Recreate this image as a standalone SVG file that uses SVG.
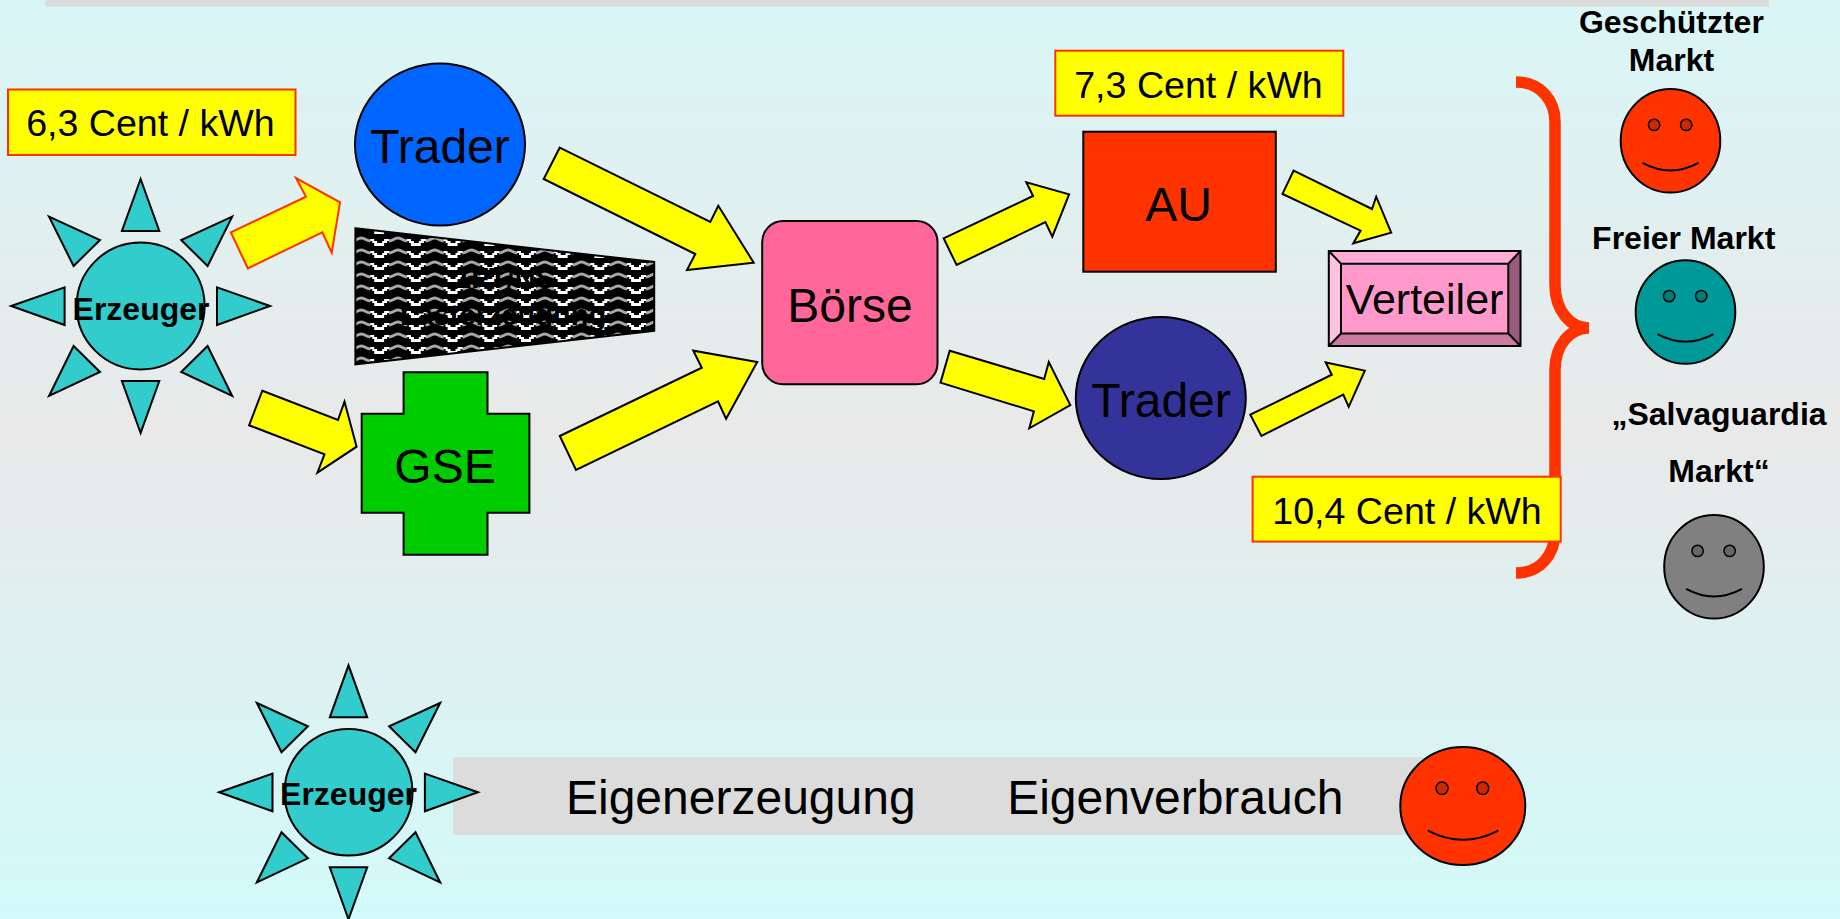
<svg xmlns="http://www.w3.org/2000/svg" width="1840" height="919" viewBox="0 0 1840 919">
<style>
text{font-family:"Liberation Sans",Arial,sans-serif;fill:#000;text-anchor:middle}
.t{font-size:48px}
.p{font-size:37.6px}
.b{font-weight:bold;font-size:32px}
.e{font-weight:bold;font-size:32px}
.k{stroke:#000;stroke-width:2}
.sun{fill:#33cccc;stroke:#000;stroke-width:2}
.arr{fill:#ffff00;stroke:#000;stroke-width:2;stroke-linejoin:miter}
.price{fill:#ffff00;stroke:#ff3300;stroke-width:2}
.eye{stroke:#000;stroke-width:1.5}
.mouth{fill:none;stroke:#000;stroke-width:2}
</style>
<defs>
<linearGradient id="bg" x1="0" y1="0" x2="0" y2="1">
<stop offset="0" stop-color="#d9f6f6"/><stop offset="0.47" stop-color="#e9e9e9"/><stop offset="1" stop-color="#d2fafa"/>
</linearGradient>
<pattern id="wave" width="36.7" height="12" patternUnits="userSpaceOnUse" patternTransform="translate(398 307)">
<rect width="36.7" height="12" fill="#000"/>
<path d="M-9.2,6 C-5,6 -4,3 0,3 C4,3 5,6 9.2,6 M27.5,6 C31.7,6 32.7,3 36.7,3 C40.7,3 41.7,6 45.9,6" fill="none" stroke="#a8a8a8" stroke-width="2.8"/>
<path d="M9,5 H12 V7 H14.5 V9.5 H22 V7 H24.5 V5 H28" fill="none" stroke="#fff" stroke-width="2.4" shape-rendering="crispEdges"/>
</pattern>
<g id="sunrays">
<polygon points="0,-127 -18.7,-75 18.7,-75"/>
<polygon points="0,127 -18.7,75 18.7,75"/>
<polygon points="-129.4,0 -76,-18.7 -76,19"/>
<polygon points="129.4,0 76.4,-18.7 76.4,19"/>
<polygon points="-91.6,-89.3 -40.6,-66 -67,-40"/>
<polygon points="91.6,-89.3 40.6,-66 67,-40"/>
<polygon points="-91.6,90 -67,40 -40.6,66"/>
<polygon points="91.6,90 67,40 40.6,66"/>
</g>
</defs>
<rect id="background" width="1840" height="919" fill="url(#bg)"/>
<rect id="topbar" x="45.5" y="0" width="1723.5" height="6.7" fill="#dcdcdc"/>

<g id="brace"><path d="M1516,82 C1540,82 1555,100 1555,122 V285 C1555,310 1570,328 1589,328 C1570,328 1555,345 1555,370 V531 C1555,555 1540,573 1516,573" fill="none" stroke="#ff3300" stroke-width="11.5"/></g>

<g id="connectors">
<polygon class="price" points="230.8,232.3 306,196.7 296,178 340,202.3 331.7,252.7 322.3,232.3 247.8,268.3"/>
<polygon class="arr" points="559.7,147.7 710.3,222 718.3,205.7 753.7,262.7 687,270 695.3,254 543.7,179"/>
<polygon class="arr" points="262.3,390.7 338,420 344.5,401.7 356.6,446.7 317.4,472.7 324.5,454.3 249.1,425.3"/>
<polygon class="arr" points="559.8,436 701.8,367.7 693.3,350.7 757.2,362 726.1,418.7 718,401.3 576,470"/>
<polygon class="arr" points="943.6,238.3 1033.1,196 1026.3,182.3 1069.1,194.3 1052.3,236.7 1045.4,222 956.6,265"/>
<polygon class="arr" points="949.7,350.7 1044.2,379 1048.8,362 1070.3,405 1029.3,428.3 1033.9,411.3 940.5,382.7"/>
<polygon class="arr" points="1293.6,170.6 1372,209 1376.2,196.7 1391.2,232.7 1353.3,243.3 1360.6,230.6 1282.5,193.9"/>
<polygon class="arr" points="1250.3,414.7 1331.8,374.7 1325.7,362.4 1364.8,370.6 1348.7,406.9 1343.3,394.7 1261.4,435.9"/>
</g>

<g id="price-63"><rect class="price" x="8" y="89.5" width="287.5" height="65.5"/><text class="p" x="150.4" y="136">6,3 Cent / kWh</text></g>
<g id="erzeuger-1">
<use href="#sunrays" x="140.6" y="306" class="sun"/>
<ellipse class="sun" cx="140.6" cy="306" rx="64" ry="63.5"/>
<text class="e" x="141" y="320">Erzeuger</text>
</g>
<g id="trader-1"><ellipse class="k" cx="440" cy="144.5" rx="85" ry="81" fill="#0066ff"/><text class="t" x="440" y="163">Trader</text></g>
<g id="lasterzeugung">
<polygon points="355.4,228.3 654.2,262 654.2,330.8 355.4,364.3" fill="url(#wave)" stroke="#000" stroke-width="2"/>
<text x="505" y="288" style="font-size:29px;font-weight:bold">1FT/NS</text>
<text x="503" y="325" style="font-size:29px;font-weight:bold">Lasterzeugung</text>
</g>
<g id="gse"><polygon class="k" points="403.6,372.3 487.5,372.3 487.5,413.7 529.4,413.7 529.4,512.7 487.5,512.7 487.5,554.7 403.6,554.7 403.6,512.7 361.7,512.7 361.7,413.7 403.6,413.7" fill="#00cc00"/><text class="t" x="445" y="482.7">GSE</text></g>
<g id="boerse"><rect class="k" x="762.2" y="221" width="175.3" height="163.3" rx="21" ry="21" fill="#ff6699"/><text class="t" x="850" y="321.7">Börse</text></g>
<g id="price-73"><rect class="price" x="1055.3" y="50.7" width="288" height="65"/><text class="p" x="1198.5" y="98.3">7,3 Cent / kWh</text></g>
<g id="au"><rect class="k" x="1083.3" y="131.7" width="192.5" height="140" fill="#ff3300"/><text class="t" x="1178.5" y="220.7">AU</text></g>
<g id="trader-2"><ellipse class="k" cx="1160.8" cy="398" rx="85" ry="81" fill="#333399"/><text class="t" x="1161" y="417.3">Trader</text></g>
<g id="verteiler">
<rect x="1328.8" y="251" width="191.7" height="95" fill="#ff99cc"/>
<polygon points="1328.8,251 1520.5,251 1508.3,263.7 1341,263.7" fill="#ffadd6"/>
<polygon points="1328.8,251 1341,263.7 1341,333.5 1328.8,346" fill="#ffc2e0"/>
<polygon points="1520.5,251 1508.3,263.7 1508.3,333.5 1520.5,346" fill="#995c7a"/>
<polygon points="1328.8,346 1341,333.5 1508.3,333.5 1520.5,346" fill="#cc7aa3"/>
<path d="M1328.8,251 H1520.5 V346 H1328.8 Z M1341,263.7 H1508.3 V333.5 H1341 Z M1328.8,251 L1341,263.7 M1520.5,251 L1508.3,263.7 M1328.8,346 L1341,333.5 M1520.5,346 L1508.3,333.5" fill="none" stroke="#000" stroke-width="2"/>
<text x="1424.5" y="314.3" style="font-size:43px">Verteiler</text>
</g>
<g id="price-104"><rect class="price" x="1252.6" y="476.7" width="308.1" height="64.9"/><text class="p" x="1407" y="524">10,4 Cent / kWh</text></g>

<g id="markt-geschuetzt">
<text class="b" x="1671.4" y="32.6">Geschützter</text><text class="b" x="1671.4" y="71">Markt</text>
<ellipse class="k" cx="1670.5" cy="140.8" rx="49.8" ry="51.8" fill="#ff3300"/>
<circle class="eye" cx="1654.1" cy="124.9" r="5.7" fill="#cc2900"/><circle class="eye" cx="1686.2" cy="124.9" r="5.7" fill="#cc2900"/>
<path class="mouth" d="M1642.6,162.9 Q1670.5,178 1698.5,162.9"/>
</g>
<g id="markt-frei">
<text class="b" x="1683.7" y="249.4">Freier Markt</text>
<ellipse class="k" cx="1685.5" cy="312" rx="49.8" ry="51.8" fill="#009999"/>
<circle class="eye" cx="1669.1" cy="296.1" r="5.7" fill="#007a7a"/><circle class="eye" cx="1701.2" cy="296.1" r="5.7" fill="#007a7a"/>
<path class="mouth" d="M1657.6,334.1 Q1685.5,349.2 1713.5,334.1"/>
</g>
<g id="markt-salvaguardia">
<text class="b" x="1719" y="424.5">„Salvaguardia</text><text class="b" x="1719" y="481.6">Markt“</text>
<ellipse class="k" cx="1714" cy="566.8" rx="49.8" ry="51.8" fill="#808080"/>
<circle class="eye" cx="1697.6" cy="550.9" r="5.7" fill="#666666"/><circle class="eye" cx="1729.7" cy="550.9" r="5.7" fill="#666666"/>
<path class="mouth" d="M1686.1,588.9 Q1714,604 1742,588.9"/>
</g>

<g id="eigen-bar">
<rect x="453.3" y="757.3" width="970" height="77.7" fill="#dcdcdc"/>
<text class="t" x="740.8" y="814.3">Eigenerzeugung</text>
<text class="t" x="1175.3" y="814.3">Eigenverbrauch</text>
</g>
<g id="erzeuger-2">
<use href="#sunrays" x="348.5" y="792.3" class="sun"/>
<ellipse class="sun" cx="348.5" cy="792.3" rx="64" ry="63.3"/>
<text class="e" x="348.5" y="805">Erzeuger</text>
</g>
<g id="verbraucher">
<ellipse class="k" cx="1462.8" cy="806" rx="62.5" ry="59" fill="#ff3300"/>
<ellipse class="eye" cx="1442" cy="788.3" rx="6" ry="6.3" fill="#cc2900"/><ellipse class="eye" cx="1482.7" cy="788.3" rx="6" ry="6.3" fill="#cc2900"/>
<path class="mouth" d="M1428,830.7 Q1463,849 1498.3,830.7"/>
</g>
</svg>
